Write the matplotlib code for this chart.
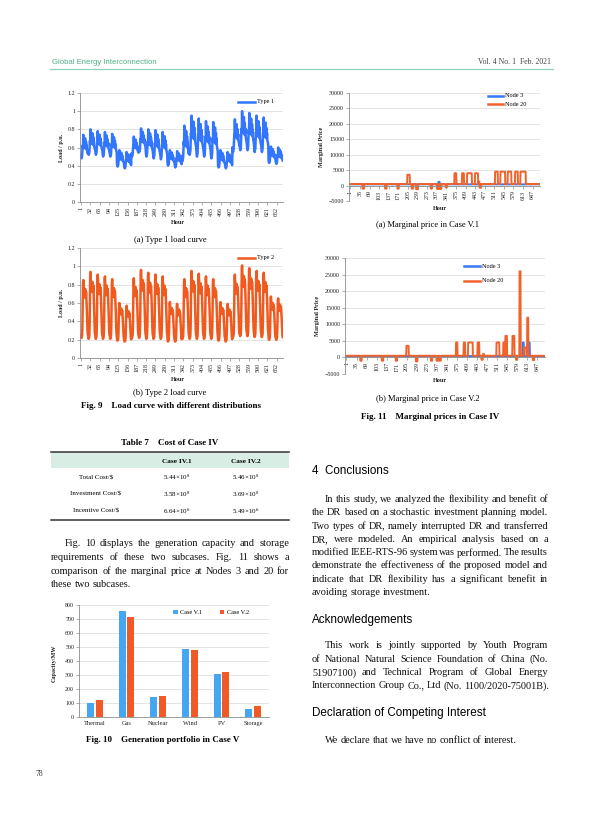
import numpy as np
import matplotlib
matplotlib.use('Agg')
import matplotlib.pyplot as plt
from matplotlib.lines import Line2D
from matplotlib.patches import Rectangle

plt.rcParams['font.family'] = ['Liberation Serif', 'DejaVu Serif']
plt.rcParams['mathtext.fontset'] = 'stix'

# ---------------- data ----------------
n_hours = 672
load_ticks = [1, 32, 63, 94, 125, 156, 187, 218, 249, 280, 311, 342, 373, 404,
              435, 466, 497, 528, 559, 590, 621, 652]
price_ticks = [1, 35, 69, 103, 137, 171, 205, 239, 273, 307, 341, 375, 409, 443,
               477, 511, 545, 579, 613, 647]

# daily peaks / troughs (28 days)
type1_peak = [0.74, 0.80, 0.78, 0.77, 0.75, 0.57, 0.55,
              0.72, 0.81, 0.80, 0.79, 0.77, 0.57, 0.56,
              0.84, 0.95, 0.92, 0.89, 0.88, 0.57, 0.55,
              0.91, 1.00, 0.98, 0.95, 0.93, 0.61, 0.60]
type1_trough = [0.48, 0.52, 0.52, 0.50, 0.50, 0.39, 0.37,
                0.50, 0.55, 0.50, 0.48, 0.47, 0.40, 0.38,
                0.45, 0.52, 0.50, 0.50, 0.48, 0.38, 0.37,
                0.55, 0.57, 0.57, 0.55, 0.55, 0.43, 0.42]
type1_shape = [0.15, 0.05, 0.0, 0.05, 0.1, 0.3, 0.55, 0.45, 1.0, 0.5, 0.6, 0.75,
               0.45, 0.55, 0.85, 0.5, 0.4, 0.7, 0.45, 0.55, 0.35, 0.3, 0.25, 0.2]

type2_peak = [0.85, 0.94, 0.91, 0.89, 0.86, 0.60, 0.57,
              0.87, 0.96, 0.93, 0.91, 0.89, 0.61, 0.59,
              0.86, 0.95, 0.92, 0.89, 0.86, 0.61, 0.59,
              0.91, 1.01, 0.98, 0.95, 0.93, 0.67, 0.65]
type2_trough = [0.22, 0.21, 0.21, 0.21, 0.21, 0.19, 0.18,
                0.22, 0.22, 0.21, 0.21, 0.21, 0.18, 0.18,
                0.21, 0.21, 0.21, 0.21, 0.21, 0.19, 0.18,
                0.23, 0.24, 0.24, 0.23, 0.23, 0.20, 0.20]
type2_shape = [0.05, 0.0, 0.0, 0.02, 0.05, 0.2, 0.6, 0.95, 1.0, 0.85, 0.75, 0.8,
               0.7, 0.75, 0.85, 0.78, 0.7, 0.8, 0.72, 0.6, 0.45, 0.25, 0.12, 0.06]

# marginal price: baseline plus (start hour, end hour, value) episodes
node3_base = 400
node20_base = 500
v1_node3_events = [(313, 317, 1200)]
v1_node20_events = [(44, 49, -1000), (124, 129, -1000), (168, 172, -1000),
                    (203, 211, 3500), (218, 223, -1000), (234, 240, -1200),
                    (286, 290, -1000), (308, 313, -1100), (318, 323, -1100),
                    (339, 343, -600), (370, 376, 4000), (397, 403, 4000),
                    (415, 431, 4000), (443, 453, 4000), (456, 458, 1300),
                    (459, 464, -700), (514, 523, 4500), (533, 549, 4500),
                    (559, 571, 4500), (585, 594, 4500), (604, 622, 4500)]
v2_node3_events = [(598, 601, 4500), (617, 621, 4500)]
v2_node20_events = [(48, 52, -1000), (121, 125, -1000), (168, 172, -1000),
                    (204, 211, 3500), (236, 241, -1200), (287, 291, -1000),
                    (306, 310, -1000), (315, 320, -1000), (372, 376, 4500),
                    (398, 402, 4500), (413, 428, 4500), (445, 450, 4500),
                    (458, 462, -700), (463, 467, 1000), (509, 518, 4500),
                    (532, 537, 4500), (539, 544, 6500), (563, 569, 6500),
                    (575, 579, -700), (587, 590, 26000), (602, 609, 3000),
                    (613, 616, 12000), (632, 636, -800)]

# Fig. 10
gen_types = ['Thermal', 'Gas', 'Nuclear', 'Wind', 'PV', 'Storage']
cap_v1 = [100, 760, 140, 487, 308, 58]
cap_v2 = [125, 712, 153, 477, 322, 78]

# Table 7
tab_rows = ['Total Cost/$', 'Investment Cost/$', 'Incentive Cost/$']
tab_cols = ['Case IV.1', 'Case IV.2']
tab_vals = [['5.44×10$^{8}$', '5.46×10$^{8}$'],
            ['3.58×10$^{8}$', '3.69×10$^{8}$'],
            ['6.64×10$^{6}$', '5.49×10$^{6}$']]

# ---------------- layout helpers ----------------
W, H = 600, 814
fig = plt.figure(figsize=(6, 8.14), dpi=100)
renderer = fig.canvas.get_renderer()
SERIF = ['Liberation Serif', 'DejaVu Serif']
SANS = ['Liberation Sans', 'DejaVu Sans']
BLUE = '#3a78f5'
GRID = '#d9d9d9'
AXC = '#8c8c8c'
BODY = 7.35


def fx(x):
    return x / W


def fy(y):
    return 1 - y / H


def add_ax(l, t, r, b):
    return fig.add_axes([l / W, 1 - b / H, (r - l) / W, (b - t) / H])


def txt(x, y, s, fs, family=SERIF, ha='left', va='center_baseline', **kw):
    return fig.text(fx(x), fy(y), s, fontsize=fs, family=family, ha=ha, va=va, **kw)


def jline(x0, x1, y, s, fs=BODY, justify=True, color='#111111'):
    words = s.split()
    ts = [txt(0, y, w, fs, color=color) for w in words]
    ws = [t.get_window_extent(renderer).width for t in ts]
    if justify and len(words) > 1:
        gap = (x1 - x0 - sum(ws)) / (len(words) - 1)
    else:
        gap = 0.23 * fs * 100 / 72
    x = x0
    for t, w in zip(ts, ws):
        t.set_x(fx(x))
        x += w + gap


def hline(x0, x1, y, color, lw):
    fig.add_artist(Line2D([fx(x0), fx(x1)], [fy(y), fy(y)], color=color, lw=lw,
                          transform=fig.transFigure))


def legend_line(x0, x1, y, color, label, fs=4.5):
    fig.add_artist(Line2D([fx(x0), fx(x1)], [fy(y), fy(y)], color=color, lw=1.8,
                          transform=fig.transFigure))
    txt(x1 + 2, y, label, fs, va='center')


def style_ax(ax):
    for s in ['top', 'right']:
        ax.spines[s].set_visible(False)
    for s in ['left', 'bottom']:
        ax.spines[s].set_color(AXC)
        ax.spines[s].set_linewidth(0.6)
    ax.tick_params(labelsize=4.3, length=2, width=0.5, color=AXC, pad=1.5,
                   labelcolor='#222222')
    ax.grid(axis='y', color=GRID, lw=0.5)
    ax.set_axisbelow(True)


hours = np.arange(1, n_hours + 1)


def daily(peak, trough, shape):
    return np.concatenate([tr + (pk - tr) * np.array(shape) for pk, tr in zip(peak, trough)])


def price(base, events):
    y = np.full(n_hours, base, dtype=float)
    for s, e, v in events:
        y[s - 1:e] = v
    return y


# ---------------- header ----------------
txt(52, 61, 'Global Energy Interconnection', 5.6, family=SANS, color='#4fb088')
txt(551, 61, 'Vol. 4 No. 1  Feb. 2021', 5.6, ha='right', color='#444444')
hline(50, 553, 69, '#8fd3b6', 0.9)

# ---------------- Fig. 9 ----------------
for (t, b), y, color, label, leg_y in [((93, 202), daily(type1_peak, type1_trough, type1_shape), '#3275ff', 'Type 1', 102),
                                       ((248, 358), daily(type2_peak, type2_trough, type2_shape), '#f05a1e', 'Type 2', 258)]:
    ax = add_ax(80, t, 283, b)
    style_ax(ax)
    ax.plot(hours, y, color=color, lw=1.8)
    ax.set_xlim(-2, 673)
    ax.set_ylim(0, 1.2)
    ax.set_yticks([0, 0.2, 0.4, 0.6, 0.8, 1.0, 1.2])
    ax.set_yticklabels(['0', '0.2', '0.4', '0.6', '0.8', '1', '1.2'])
    ax.set_xticks(load_ticks)
    ax.set_xticklabels([str(v) for v in load_ticks], rotation=90)
    legend_line(238, 255, leg_y, color, label)
    txt(61, (t + b) / 2, 'Load / p.u.', 4.4, ha='center', va='center', rotation=90,
        weight='bold', color='#222222')
    txt(178, b + 21, 'Hour', 4.5, ha='center', va='center', weight='bold', color='#222222')

txt(170, 239, '(a) Type 1 load curve', 6.1, ha='center')
txt(170, 392, '(b) Type 2 load curve', 6.1, ha='center')
txt(171, 405.5, 'Fig. 9    Load curve with different distributions', 6.5, ha='center', weight='bold')

# ---------------- Fig. 11 ----------------
for (l, t, r, b), e3, e20, leg, hour_y in [((349, 93, 540, 201), v1_node3_events, v1_node20_events, (488, 503, 95.7, 104), 208),
                                          ((345, 258, 545, 374), v2_node3_events, v2_node20_events, (464, 480, 266, 281), 381)]:
    ax = add_ax(l, t, r, b)
    style_ax(ax)
    ax.plot(hours, price(node3_base, e3), color=BLUE, lw=1.4)
    ax.plot(hours, price(node20_base, e20), color='#f0622a', lw=1.4)
    ax.set_xlim(-4, 673)
    ax.set_ylim(-5000, 30000)
    ax.set_yticks(np.arange(-5000, 30001, 5000))
    ax.set_yticklabels([str(v) if v >= 0 else '\u22125000' for v in range(-5000, 30001, 5000)])
    ax.spines['bottom'].set_position(('data', 0))
    ax.set_xticks(price_ticks)
    ax.set_xticklabels([str(v) for v in price_ticks], rotation=90)
    legend_line(leg[0], leg[1], leg[2], BLUE, 'Node 3')
    legend_line(leg[0], leg[1], leg[3], '#f0622a', 'Node 20')
    txt(l - 28, (t + b) / 2, 'Marginal Price', 4.4, ha='center', va='center', rotation=90,
        weight='bold', color='#222222')
    txt((l + r) / 2 - 5, hour_y, 'Hour', 4.5, ha='center', va='center', weight='bold', color='#222222')

txt(428, 224, '(a) Marginal price in Case V.1', 6.1, ha='center')
txt(428, 398.5, '(b) Marginal price in Case V.2', 6.1, ha='center')
txt(430, 416, 'Fig. 11    Marginal prices in Case IV', 6.5, ha='center', weight='bold')

# ---------------- Table 7 ----------------
txt(170, 442, 'Table 7    Cost of Case IV', 6.5, ha='center', weight='bold')
fig.add_artist(Rectangle((fx(51), fy(468)), (289 - 51) / W, (468 - 452) / H,
                         transform=fig.transFigure, facecolor='#d8eee4', edgecolor='none'))
hline(51, 289, 452, '#333333', 1.1)
hline(51, 289, 519.5, '#333333', 1.1)
col_x = [177, 246]
row_y = [477.7, 494, 510.7]
for cx, c in zip(col_x, tab_cols):
    txt(cx, 461, c, 5.2, ha='center', va='center', weight='bold')
for ry, rname, vals in zip(row_y, tab_rows, tab_vals):
    txt(96, ry, rname, 5.0, ha='center', va='center')
    for cx, v in zip(col_x, vals):
        txt(cx, ry, v, 5.0, ha='center', va='center')

# ---------------- left paragraph ----------------
left_lines = ['Fig. 10 displays the generation capacity and storage',
              'requirements of these two subcases. Fig. 11 shows a',
              'comparison of the marginal price at Nodes 3 and 20 for',
              'these two subcases.']
for i, (ln, yy) in enumerate(zip(left_lines, [543, 556.5, 570, 583.5])):
    jline(65 if i == 0 else 51, 289, yy, ln, justify=(i < len(left_lines) - 1))

# ---------------- Fig. 10 ----------------
ax = add_ax(79, 605, 269, 717)
style_ax(ax)
xc = np.arange(len(gen_types))
ax.bar(xc - 0.135, cap_v1, width=0.22, color='#45a6f2', label='Case V.1')
ax.bar(xc + 0.135, cap_v2, width=0.22, color='#f05a28', label='Case V.2')
ax.set_xlim(-0.5, len(gen_types) - 0.5)
ax.set_ylim(0, 800)
ax.set_yticks(np.arange(0, 801, 100))
ax.set_xticks(xc)
ax.set_xticklabels(gen_types, fontsize=4.6)
ax.tick_params(axis='x', length=0, pad=3)
for x0, c, lab in [(173, '#45a6f2', 'Case V.1'), (220, '#f05a28', 'Case V.2')]:
    fig.add_artist(Rectangle((fx(x0), fy(614)), 4.5 / W, 4.5 / H, transform=fig.transFigure,
                             facecolor=c, edgecolor='none'))
    txt(x0 + 7, 612, lab, 4.5, va='center')
txt(54, 663, 'Capacity/MW', 4.4, ha='center', va='center', rotation=90, weight='bold', color='#222222')
txt(163, 739.5, 'Fig. 10    Generation portfolio in Case V', 6.5, ha='center', weight='bold')

# ---------------- right column text ----------------
txt(312, 471, '4  Conclusions', 8.4, family=SANS, va='center')
concl = ['In this study, we analyzed the flexibility and benefit of',
         'the DR based on a stochastic investment planning model.',
         'Two types of DR, namely interrupted DR and transferred',
         'DR,  were modeled.  An empirical analysis based on a',
         'modified IEEE-RTS-96 system was performed. The results',
         'demonstrate the effectiveness of the proposed model and',
         'indicate that DR flexibility has a significant benefit in',
         'avoiding storage investment.']
cy = [498.5, 511.8, 525.1, 538.4, 551.7, 565, 578.3, 591.6]
for i, (ln, yy) in enumerate(zip(concl, cy)):
    jline(325 if i == 0 else 312, 548, yy, ln, justify=(i < len(concl) - 1))

txt(312, 619.5, 'Acknowledgements', 8.4, family=SANS, va='center')
ack = ['This work is jointly supported by Youth Program',
       'of National Natural Science Foundation of China (No.',
       '51907100) and Technical Program of Global Energy',
       'Interconnection Group Co., Ltd (No. 1100/2020-75001B).']
ay = [645, 658.3, 671.6, 684.9]
for i, (ln, yy) in enumerate(zip(ack, ay)):
    jline(325 if i == 0 else 312, 548, yy, ln, justify=(i < len(ack) - 1))

txt(312, 713, 'Declaration of Competing Interest', 8.4, family=SANS, va='center')
jline(325, 548, 739.5, 'We declare that we have no conflict of interest.', justify=False)

txt(35, 773, '78', 5.5, color='#333333')

fig.savefig('out.png', dpi=100)
